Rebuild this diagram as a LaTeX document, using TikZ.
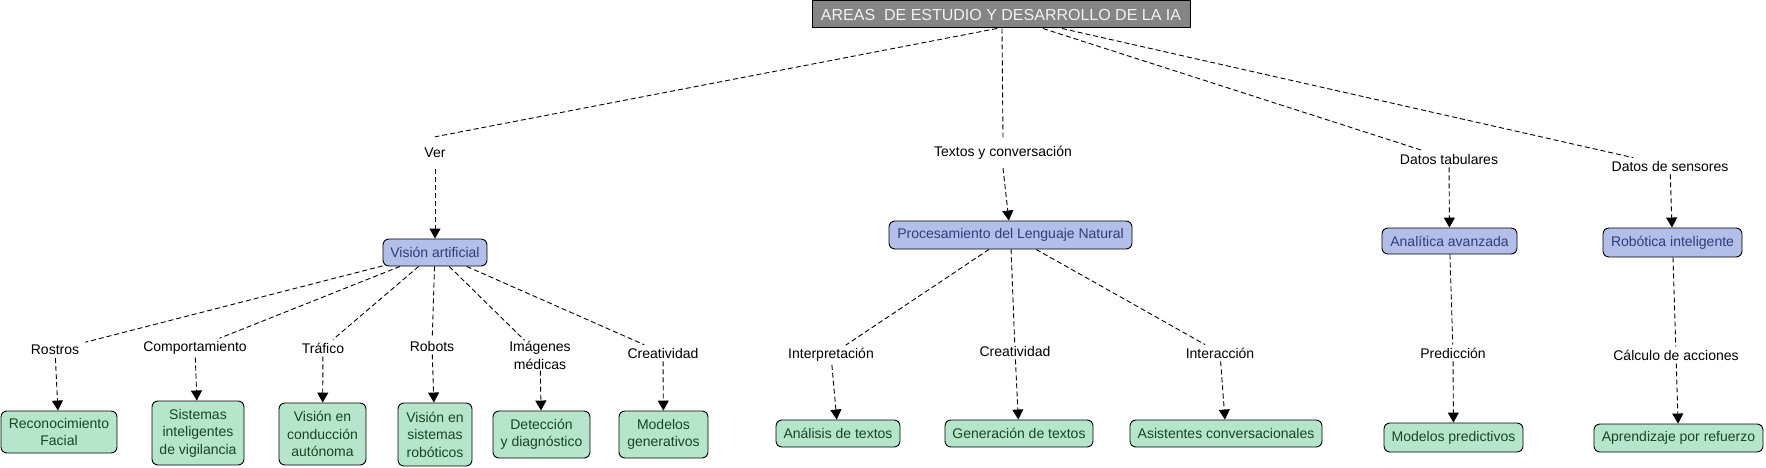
\documentclass[tikz,border=0pt]{standalone}
\usepackage{fontspec}
\setmainfont{Liberation Sans}
\usetikzlibrary{arrows.meta}
\definecolor{titlefill}{HTML}{858585}
\definecolor{titletext}{HTML}{F2F2F2}
\definecolor{bluefill}{HTML}{B3BFE8}
\definecolor{bluetext}{HTML}{2E3D7D}
\definecolor{greenfill}{HTML}{B5E6CC}
\definecolor{greentext}{HTML}{1B4422}
\begin{document}
\begin{tikzpicture}[x=1pt,y=-1pt,
  base/.style={font=\fontsize{14}{17.5}\selectfont, align=center, inner sep=0pt},
  titlebox/.style={base, draw=black, fill=titlefill, text=titletext, font=\fontsize{16}{19}\selectfont, line width=1pt},
  bluebox/.style={base, draw=black, fill=bluefill, text=bluetext, rounded corners=6pt, line width=0.9pt},
  greenbox/.style={base, draw=black, fill=greenfill, text=greentext, rounded corners=6pt, line width=0.9pt},
  lab/.style={base, inner xsep=6pt, inner ysep=3pt},
  link/.style={dash pattern=on 5pt off 3pt, line width=0.9pt, black},
  arr/.style={link, -{Triangle[width=11pt,length=10pt]}},
]
\fill[white] (0,0) rectangle (1766,468);
\useasboundingbox (0,0) rectangle (1766,468);

% title
\node[titlebox, minimum width=378pt, minimum height=27pt] (title) at (1001,14.5) {AREAS\ \ DE ESTUDIO Y DESARROLLO DE LA IA};

% level 1 labels
\node[lab, minimum height=32pt] (ver) at (435,153) {Ver};
\node[lab, minimum height=30pt] (textos) at (1003,153) {Textos y conversación};
\node[lab] (tabulares) at (1449,159) {Datos tabulares};
\node[lab] (sensores) at (1670,166) {Datos de sensores};

% level 1 concepts
\node[bluebox, minimum width=104pt, minimum height=27pt] (vision) at (435,252.5) {Visión artificial};
\node[bluebox, minimum width=243pt, minimum height=28pt] (pln) at (1010.5,235) {Procesamiento del Lenguaje Natural};
\node[bluebox, minimum width=135pt, minimum height=26pt] (analitica) at (1449.5,241) {Analítica avanzada};
\node[bluebox, minimum width=139pt, minimum height=29pt] (robotica) at (1672.5,242.5) {Robótica inteligente};

% level 2 labels
\node[lab] (rostros) at (55,350) {Rostros};
\node[lab] (comport) at (195,348) {Comportamiento};
\node[lab] (trafico) at (323,348) {Tráfico};
\node[lab] (robots) at (432,346) {Robots};
\node[lab, inner ysep=1pt] (imagenes) at (540,355.5) {Imágenes\\médicas};
\node[lab] (creat1) at (663,353) {Creatividad};
\node[lab] (interp) at (831,355) {Interpretación};
\node[lab] (creat2) at (1015,351) {Creatividad};
\node[lab] (interac) at (1220,353) {Interacción};
\node[lab] (predic) at (1453,353) {Predicción};
\node[lab] (calculo) at (1676,355) {Cálculo de acciones};

% leaves
\node[greenbox, minimum width=116pt, minimum height=42pt] (recon) at (59,432) {Reconocimiento\\Facial};
\node[greenbox, minimum width=92pt, minimum height=64pt] (sistemas) at (198,433) {Sistemas\\inteligentes\\de vigilancia};
\node[greenbox, minimum width=87pt, minimum height=62pt] (conduc) at (322.5,434) {Visión en\\conducción\\autónoma};
\node[greenbox, minimum width=74pt, minimum height=63pt] (robsis) at (435,434.5) {Visión en\\sistemas\\robóticos};
\node[greenbox, minimum width=97pt, minimum height=47pt] (detec) at (541.5,434.5) {Detección\\y diagnóstico};
\node[greenbox, minimum width=89pt, minimum height=47pt] (modgen) at (663.5,434.5) {Modelos\\generativos};
\node[greenbox, minimum width=124pt, minimum height=27pt] (analisis) at (838,433.5) {Análisis de textos};
\node[greenbox, minimum width=148pt, minimum height=27pt] (generac) at (1019,433.5) {Generación de textos};
\node[greenbox, minimum width=192pt, minimum height=27pt] (asist) at (1226,433.5) {Asistentes conversacionales};
\node[greenbox, minimum width=139pt, minimum height=29pt] (modpred) at (1453.5,437.5) {Modelos predictivos};
\node[greenbox, minimum width=169pt, minimum height=28pt] (aprend) at (1678.5,438) {Aprendizaje por refuerzo};

% title connectors
\draw[link] ([xshift=-4pt]title.south) -- (ver.north);
\draw[link] ([xshift=1pt]title.south) -- (textos.north);
\draw[link] ([xshift=42pt]title.south) -- (tabulares);
\draw[link] ([xshift=61pt]title.south) -- (sensores);

\draw[arr] (ver.south) -- (vision);
\draw[arr] (textos.south) -- (pln);
\draw[arr] (tabulares) -- (analitica);
\draw[arr] (sensores) -- (robotica);

% vision branch
\foreach \l/\c in {rostros/recon, comport/sistemas, trafico/conduc, robots/robsis, imagenes/detec, creat1/modgen}{
  \draw[link] (vision) -- (\l);
  \draw[arr] (\l) -- (\c);
}
% pln branch
\foreach \l/\c in {interp/analisis, creat2/generac, interac/asist}{
  \draw[link] (pln) -- (\l);
  \draw[arr] (\l) -- (\c);
}
\draw[link] (analitica) -- (predic);
\draw[arr] (predic) -- (modpred);
\draw[link] (robotica) -- (calculo);
\draw[arr] (calculo) -- (aprend);
\end{tikzpicture}
\end{document}
